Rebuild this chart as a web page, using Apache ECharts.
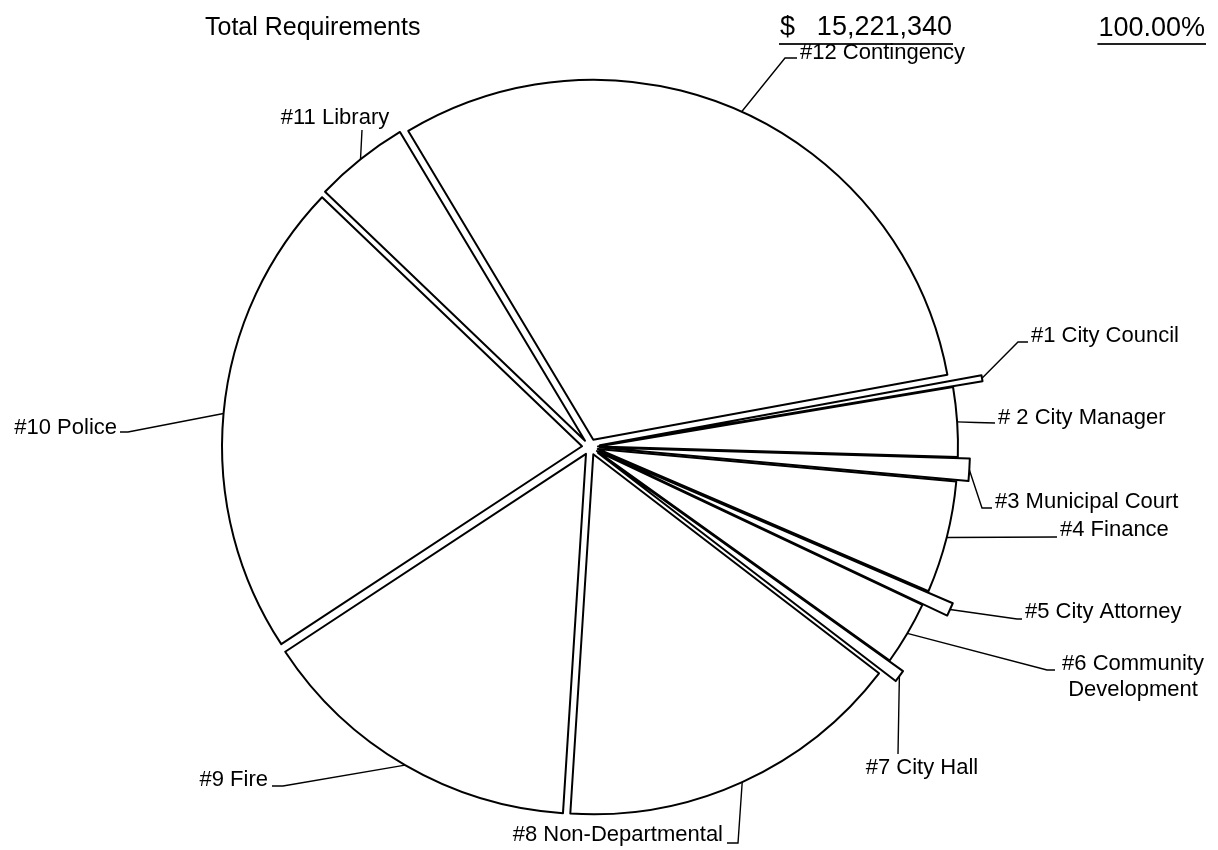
<!DOCTYPE html>
<html>
<head>
<meta charset="utf-8">
<script src="https://cdn.jsdelivr.net/npm/echarts@6/dist/echarts.min.js"></script>
<style>
  html, body { margin: 0; padding: 0; background: #ffffff; }
  #chart { width: 1218px; height: 850px; }
</style>
</head>
<body>
<div id="chart"></div>
<script>
// Budget requirements by department (dollars)
const departments = [
  '#1 City Council',
  '# 2 City Manager',
  '#3 Municipal Court',
  '#4 Finance',
  '#5 City Attorney',
  '#6 Community\nDevelopment',
  '#7 City Hall',
  '#8 Non-Departmental',
  '#9 Fire',
  '#10 Police',
  '#11 Library',
  '#12 Contingency'
];
const requirements = [
  38000, 473000, 148000, 765000, 85000, 435000,
  80000, 2376000, 2241000, 3260000, 647000, 4673340
];
const headerTitle = 'Total Requirements';

// ---- layout / style settings ----
const FONT = '"Liberation Sans", Arial, Helvetica, sans-serif';
const CX = 590, CY = 447;          // pie centre (px)
const R = 360;                     // pie radius
const EXPLODE = 8;                 // gap offset for the regular slices
const START_ANGLE = 10.4;          // first slice starts here (deg, ECharts convention)
const LINE = '#000000';
// narrow slices that stick out past the rim: radius per slice
const narrowRadius = { 0: 388, 2: 370, 4: 385, 6: 375 };
const NARROW_EXPLODE = 10;

// label text position + leader line route (end point and optional elbow)
const labelPlacement = [
  { via: [1018, 342], end: [1028, 342], x: 1031, y: 336, align: 'left' },
  { end: [995, 423], x: 998, y: 418, align: 'left' },
  { via: [982, 508], end: [992, 508], x: 995, y: 502, align: 'left' },
  { end: [1057, 537], x: 1060, y: 530, align: 'left' },
  { via: [1017, 619], end: [1022, 619], x: 1025, y: 612, align: 'left' },
  { via: [1047, 670], end: [1055, 670], x: 1133, y: 677, align: 'center' },
  { end: [898, 754], x: 922, y: 768, align: 'center' },
  { via: [738, 843], end: [727, 843], x: 723, y: 835, align: 'right' },
  { via: [283, 786], end: [272, 786], x: 268, y: 780, align: 'right' },
  { via: [128, 432], end: [120, 432], x: 117, y: 428, align: 'right' },
  { end: [362, 130], x: 335, y: 118, align: 'center' },
  { via: [785, 58], end: [797, 58], x: 800, y: 53, align: 'left' }
];

const total = requirements.reduce((a, b) => a + b, 0);

// point on the outer rim at the middle of slice i
function anchorOf(i) {
  let before = 0;
  for (let k = 0; k < i; k++) before += requirements[k];
  const frac = (before + requirements[i] / 2) / total;
  const ang = (START_ANGLE - 360 * frac) * Math.PI / 180;
  const r = (i in narrowRadius) ? narrowRadius[i] + NARROW_EXPLODE : R + EXPLODE;
  return [CX + r * Math.cos(ang), CY - r * Math.sin(ang)];
}

const hidden = { color: 'rgba(0,0,0,0)', borderWidth: 0 };
const drawn = { color: '#ffffff', borderColor: LINE, borderWidth: 2 };

const baseSeries = {
  type: 'pie',
  center: [CX, CY],
  startAngle: START_ANGLE,
  clockwise: true,
  avoidLabelOverlap: false,
  silent: true,
  selectedMode: 'multiple',
  label: { show: false },
  labelLine: { show: false },
  emphasis: { disabled: true },
  animation: false
};

const series = [];

// regular slices
series.push(Object.assign({}, baseSeries, {
  name: 'main',
  radius: [0, R],
  selectedOffset: EXPLODE,
  data: requirements.map((v, i) => ({
    value: v,
    name: departments[i],
    selected: !(i in narrowRadius),
    itemStyle: (i in narrowRadius) ? hidden : drawn
  }))
}));

// narrow slices, each drawn longer than the rim
Object.keys(narrowRadius).forEach(key => {
  const idx = +key;
  series.push(Object.assign({}, baseSeries, {
    name: 'narrow' + idx,
    radius: [0, narrowRadius[idx]],
    selectedOffset: NARROW_EXPLODE,
    z: 3,
    data: requirements.map((v, i) => ({
      value: v,
      name: departments[i],
      selected: i === idx,
      itemStyle: i === idx ? drawn : hidden
    }))
  }));
});

// department labels with leader lines
series.push(Object.assign({}, baseSeries, {
  name: 'labels',
  radius: [0, R + EXPLODE],
  selectedMode: false,
  z: 4,
  data: requirements.map((v, i) => ({ value: v, name: departments[i], itemStyle: hidden })),
  label: {
    show: true,
    position: 'outside',
    formatter: '{b}',
    color: '#000',
    fontFamily: FONT,
    fontSize: 22,
    lineHeight: 26
  },
  labelLine: { show: true, length: 10, length2: 10, lineStyle: { color: LINE, width: 1.4 } },
  labelLayout: function (p) {
    const i = p.dataIndex;
    const s = labelPlacement[i];
    const a = anchorOf(i);
    const via = s.via || [(a[0] + s.end[0]) / 2, (a[1] + s.end[1]) / 2];
    return {
      x: s.x, y: s.y, align: s.align, verticalAlign: 'middle',
      labelLinePoints: [a, via, s.end]
    };
  }
}));

// header texts
const totalText = total.toLocaleString('en-US');
const pctText = (total / total * 100).toFixed(2) + '%';
const measure = document.createElement('canvas').getContext('2d');
function textWidth(t, size) { measure.font = size + 'px ' + FONT; return measure.measureText(t).width; }
const HEAD = 27;
const numRight = 952, pctRight = 1205, dollarLeft = 780;
const pctW = textWidth(pctText, HEAD);

const chart = echarts.init(document.getElementById('chart'), null, { renderer: 'canvas' });
chart.setOption({
  backgroundColor: '#ffffff',
  animation: false,
  series: series,
  graphic: [
    { type: 'text', x: 205, y: 28, style: { text: headerTitle, font: '25px ' + FONT, fill: '#000', verticalAlign: 'middle' } },
    { type: 'text', x: dollarLeft, y: 28, style: { text: '$', font: HEAD + 'px ' + FONT, fill: '#000', verticalAlign: 'middle' } },
    { type: 'text', x: numRight, y: 28, style: { text: totalText, font: HEAD + 'px ' + FONT, fill: '#000', align: 'right', verticalAlign: 'middle' } },
    { type: 'line', shape: { x1: dollarLeft - 1, y1: 44, x2: numRight + 1, y2: 44 }, style: { stroke: '#222', lineWidth: 2 } },
    { type: 'text', x: pctRight, y: 29, style: { text: pctText, font: HEAD + 'px ' + FONT, fill: '#000', align: 'right', verticalAlign: 'middle' } },
    { type: 'line', shape: { x1: pctRight - pctW - 1, y1: 44, x2: pctRight + 1, y2: 44 }, style: { stroke: '#222', lineWidth: 2 } }
  ]
});
</script>
</body>
</html>
